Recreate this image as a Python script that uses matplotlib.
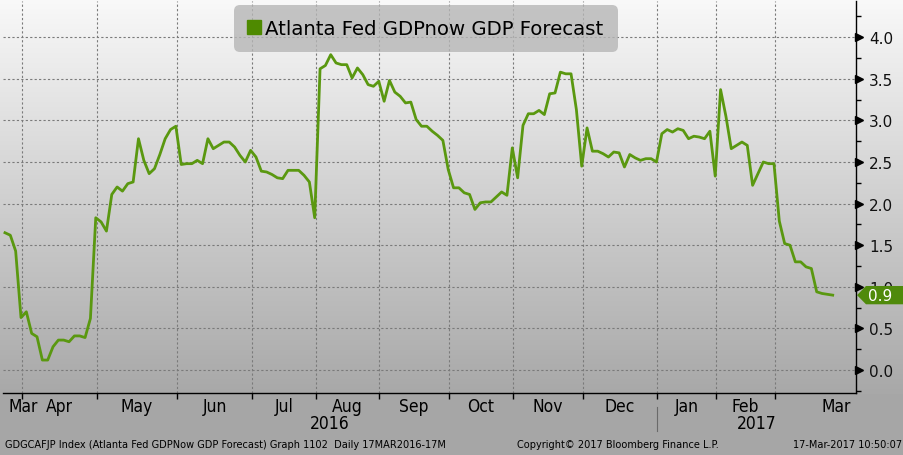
import numpy as np
import matplotlib
matplotlib.use("Agg")
import matplotlib.pyplot as plt
from matplotlib import transforms
from matplotlib import font_manager as fm
from matplotlib.lines import Line2D
from matplotlib.patches import Polygon

# Atlanta Fed GDPNow forecast, one reading per update, 17 Mar 2016 - 17 Mar 2017
gdpnow = [
    1.65, 1.62, 1.43, 0.63, 0.70, 0.44, 0.40, 0.12, 0.12, 0.28,
    0.36, 0.36, 0.34, 0.41, 0.41, 0.39, 0.62, 1.83, 1.78, 1.67,
    2.11, 2.20, 2.15, 2.24, 2.26, 2.78, 2.52, 2.36, 2.42, 2.59,
    2.78, 2.89, 2.93, 2.47, 2.48, 2.48, 2.52, 2.48, 2.78, 2.66,
    2.70, 2.74, 2.74, 2.68, 2.58, 2.50, 2.64, 2.56, 2.39, 2.38,
    2.35, 2.31, 2.30, 2.40, 2.40, 2.40, 2.34, 2.26, 1.83, 3.62,
    3.66, 3.79, 3.69, 3.67, 3.67, 3.51, 3.63, 3.55, 3.43, 3.41,
    3.47, 3.23, 3.48, 3.34, 3.29, 3.21, 3.22, 3.01, 2.93, 2.93,
    2.87, 2.82, 2.76, 2.41, 2.19, 2.19, 2.13, 2.11, 1.93, 2.01,
    2.02, 2.02, 2.08, 2.14, 2.10, 2.67, 2.31, 2.94, 3.08, 3.08,
    3.12, 3.07, 3.32, 3.33, 3.58, 3.56, 3.56, 3.13, 2.45, 2.91,
    2.63, 2.63, 2.60, 2.56, 2.62, 2.61, 2.44, 2.59, 2.55, 2.52,
    2.54, 2.54, 2.50, 2.84, 2.89, 2.86, 2.90, 2.88, 2.78, 2.81,
    2.80, 2.78, 2.87, 2.33, 3.37, 3.05, 2.66, 2.70, 2.74, 2.70,
    2.22, 2.36, 2.50, 2.48, 2.48, 1.79, 1.52, 1.50, 1.30, 1.30,
    1.24, 1.22, 0.94, 0.92, 0.91, 0.90,
]
# where each month begins, in update-index units (Apr 2016 ... Mar 2017)
month_starts = [3.2, 17.2, 32.2, 46.3, 58.2, 70.0, 83.1, 95.1, 108.2,
                122.1, 133.1, 144.2]
month_names = ["Mar", "Apr", "May", "Jun", "Jul", "Aug", "Sep", "Oct", "Nov",
               "Dec", "Jan", "Feb", "Mar"]
years = ["2016", "2017"]
y_ticks = [0.0, 0.5, 1.0, 1.5, 2.0, 2.5, 3.0, 3.5, 4.0]

LINE = "#5a9810"
LEG = "#4e8a00"
TAG = "#4f8a0b"
GRIDC = "#7a7a7a"

# Bloomberg's axis font is a condensed face: use the narrowest one around
_fonts = fm.fontManager.ttflist
if any(f.name == "DejaVu Sans" and str(f.stretch) == "condensed" for f in _fonts):
    NARROW = dict(family="DejaVu Sans", fontstretch="condensed")
    FOOT = 7.8
elif any(f.name == "Liberation Sans Narrow" for f in _fonts):
    NARROW = dict(family="Liberation Sans Narrow")
    FOOT = 8.2
else:
    NARROW = dict(family="Liberation Sans")
    FOOT = 7.4

W, H = 904, 456
XMIN, XMAX = -0.37, 159.36
YMIN, YMAX = -0.276, 4.435

fig = plt.figure(figsize=(W / 100, H / 100), dpi=100)

# background: white-to-grey fade over the plot, flat grey under it
bg = fig.add_axes([0, 0, 1, 1], zorder=-10)
rows = np.arange(H)
shade = np.where(rows <= 394, 249 - (249 - 168) * rows / 394, 166) / 255
img = np.repeat(shade[:, None, None], 3, axis=2)
bg.imshow(img, aspect="auto", extent=[0, 1, 0, 1])
bg.axis("off")

ax = fig.add_axes([3 / W, 62 / H, 853 / W, 392 / H])
ax.patch.set_visible(False)
x = np.arange(len(gdpnow))
ax.plot(x, gdpnow, color=LINE, linewidth=2.0, zorder=3,
        solid_joinstyle="round")

ax.set_xlim(XMIN, XMAX)
ax.set_ylim(YMIN, YMAX)

for s in ("left", "top"):
    ax.spines[s].set_visible(False)
for s in ("right", "bottom"):
    ax.spines[s].set_color("black")
    ax.spines[s].set_linewidth(1.0)

ax.yaxis.tick_right()
ax.set_yticks(y_ticks)
ax.set_yticklabels([f"{v:.1f}" for v in y_ticks])
ax.set_yticks(np.arange(-0.25, 4.5, 0.5), minor=True)
ax.tick_params(axis="y", which="major", length=0, pad=9.4, labelsize=11,
               labelcolor="#111111")
ax.tick_params(axis="y", which="minor", length=3.6, width=1, color="black",
               direction="out")

ax.set_xticks(month_starts)
ax.set_xticklabels([])
ax.tick_params(axis="x", which="major", length=4, width=1, color="black",
               direction="out")

ax.grid(True, which="major", color=GRIDC, linewidth=0.8,
        linestyle=(0, (2, 2)), zorder=1)

# arrowhead markers on the value axis
tri_tf = transforms.offset_copy(
    transforms.blended_transform_factory(ax.transAxes, ax.transData),
    fig=fig, x=3, y=0, units="dots")
ax.plot(np.ones(len(y_ticks)), y_ticks, ls="none", marker=">", ms=6,
        color="black", transform=tri_tf, clip_on=False, zorder=5)

# month and year labels
lab_tf = transforms.blended_transform_factory(ax.transData, ax.transAxes)
edges = [XMIN] + month_starts + [XMAX + 7.7]
for i, name in enumerate(month_names):
    if i == 0:
        ax.text(XMIN + 1.0, -0.034, name, transform=lab_tf, ha="left",
                va="center", fontsize=12.5, **NARROW)
    else:
        ax.text((edges[i] + edges[i + 1]) / 2, -0.034, name, transform=lab_tf,
                ha="center", va="center", fontsize=12.5, **NARROW)
jan = month_starts[9]
ax.text((XMIN + jan) / 2, -0.077, years[0], transform=lab_tf, ha="center",
        va="center", fontsize=12.5, **NARROW)
ax.text((jan + XMAX) / 2, -0.077, years[1], transform=lab_tf, ha="center",
        va="center", fontsize=12.5, **NARROW)
ax.plot([jan, jan], [-0.036, -0.097], color="#6a6a6a", lw=0.8,
        transform=lab_tf, clip_on=False)

# last-value tag
last = gdpnow[-1]
tag_tf = transforms.blended_transform_factory(ax.transAxes, ax.transData)
h = 0.11
tag = Polygon([(1.0012, last), (1.0117, last + h), (1.07, last + h),
               (1.07, last - h), (1.0117, last - h)],
              closed=True, transform=tag_tf, facecolor=TAG, edgecolor="none",
              clip_on=False, zorder=6)
ax.add_patch(tag)
ax.text(1.0145, last, f"{last:.1f}", transform=tag_tf, ha="left",
        va="center", fontsize=11, color="white", zorder=7)

# legend
handle = Line2D([], [], marker="s", ms=9.5, color=LEG, ls="none")
leg = ax.legend([handle], ["Atlanta Fed GDPnow GDP Forecast"],
                loc="upper center", bbox_to_anchor=(426 / W, 1 - 6 / H),
                bbox_transform=fig.transFigure, fontsize=14.2,
                handlelength=0.6, handletextpad=0.25, borderpad=0.72,
                borderaxespad=0, fancybox=True, framealpha=0.8,
                facecolor="#b6b6b6", edgecolor="none")
leg.get_frame().set_boxstyle("round,pad=0,rounding_size=0.3")
leg.set_zorder(2)

# footer
fig.text(5 / W, 0.024, "GDGCAFJP Index (Atlanta Fed GDPNow GDP Forecast) "
         "Graph 1102  Daily 17MAR2016-17M", fontsize=FOOT,
         va="center", ha="left", **NARROW)
fig.text(517 / W, 0.024, "Copyright\u00a9 2017 Bloomberg Finance L.P.",
         fontsize=FOOT, va="center", ha="left", **NARROW)
fig.text(902 / W, 0.024, "17-Mar-2017 10:50:07", fontsize=FOOT,
         va="center", ha="right", **NARROW)

fig.savefig("out.png", dpi=100)
